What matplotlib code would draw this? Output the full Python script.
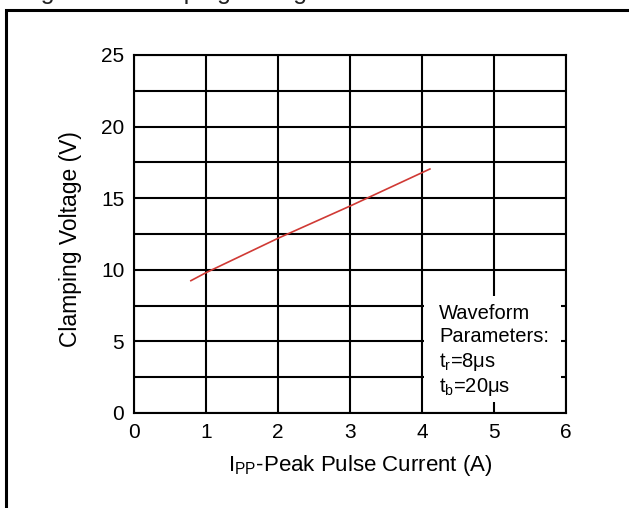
import matplotlib
matplotlib.use('Agg')
import matplotlib.pyplot as plt
from matplotlib.patches import Rectangle

plt.rcParams['font.family'] = ['Liberation Sans', 'DejaVu Sans']
plt.rcParams['mathtext.fontset'] = 'custom'
plt.rcParams['mathtext.rm'] = 'Liberation Sans'
plt.rcParams['mathtext.it'] = 'Liberation Sans'

# dados
corrente = [0.79, 1.0, 2.0, 3.0, 4.11]
tensao = [9.24, 9.8, 12.2, 14.45, 17.04]

x_ticks = [0, 1, 2, 3, 4, 5, 6]
y_ticks = [0, 5, 10, 15, 20, 25]
y_grid = [0, 2.5, 5, 7.5, 10, 12.5, 15, 17.5, 20, 22.5, 25]

texto_onda = ['Waveform', 'Parameters:', 't$_\\mathregular{r}$=8μs', 't$_\\mathregular{b}$=20μs']

fig = plt.figure(figsize=(6.29, 5.08), dpi=100)
ax = fig.add_axes([134/629, 1 - 413/508, 432/629, 358/508])

# grade
for gx in x_ticks:
    ax.axvline(gx, color='black', lw=1.5, zorder=1)
for gy in y_grid:
    ax.axhline(gy, color='black', lw=1.5, zorder=1)

# caixa branca dos parametros
ax.add_patch(Rectangle((4.03, 0.8), 1.9, 7.35, facecolor='white', edgecolor='none', zorder=2))

ax.plot(corrente, tensao, color='#d03a35', lw=1.2, zorder=3)

yy = [6.98, 5.31, 3.56, 1.82]
for t, y in zip(texto_onda, yy):
    ax.text(4.24, y, t, fontsize=14.5, va='center', ha='left', zorder=4)

ax.set_xlim(0, 6)
ax.set_ylim(0, 25)
ax.set_xticks(x_ticks)
ax.set_yticks(y_ticks)
ax.tick_params(length=0, labelsize=15, pad=7)
for s in ax.spines.values():
    s.set_linewidth(1.5)

fig.text(70/629, 1 - 239/508, 'Clamping Voltage (V)', rotation=90, fontsize=16.5,
         ha='center', va='center')
fig.text(360/629, 1 - 465/508, 'I$_\\mathregular{PP}$-Peak Pulse Current (A)', fontsize=16,
         ha='center', va='center')

# titulo cortado no topo e moldura
fig.text(20/629, 1 + 1/508, 'Figure 3: Clamping Voltage vs. Peak Pulse Current',
         fontsize=18, ha='left', va='baseline', color='#222222')
fig.add_artist(Rectangle((6/629, -0.1), 1.2, 1.1 - 10/508, transform=fig.transFigure,
                         facecolor='none', edgecolor='black', lw=2.2))

plt.savefig('out.png', dpi=100)
